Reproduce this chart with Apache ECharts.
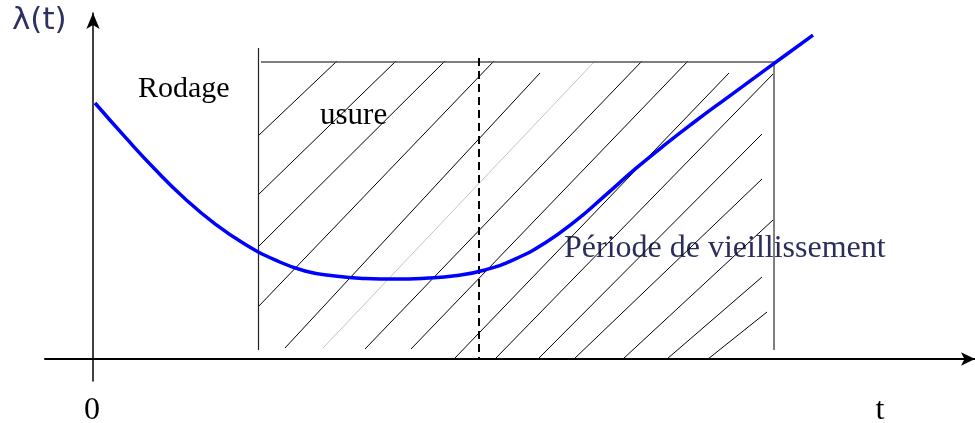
<!DOCTYPE html>
<html>
<head>
<meta charset="utf-8">
<script src="https://cdn.jsdelivr.net/npm/echarts@6/dist/echarts.min.js"></script>
<style>
  html, body { margin: 0; padding: 0; background: #fff; }
  #chart { width: 975px; height: 423px; }
</style>
</head>
<body>
<div id="chart"></div>
<script>
// courbe en baignoire : lambda(t) en fonction de t (unités arbitraires, origine = croisement des axes)

const curveT = [2, 32, 62, 92, 122, 152, 182, 212, 242, 272, 302, 332, 362,
    392, 422, 452, 482, 512, 542, 572, 602, 632, 662, 692, 720];
const curveLambda = [256, 222.1, 189.7, 160.3, 135.1, 114.7, 99.1, 88, 82.9, 80.5, 79.9, 80.8, 83.2,
    89, 99.8, 116, 137.6, 163.4, 189.8, 214.4, 237.5, 259.7, 281.6, 303.5, 323.9];

// cadre de la zone hachurée
const frameLeft = [[165, 311], [165, 9]];
const frameTop = [[168, 297], [682, 297]];
const frameRight = [[681, 297], [681, 9]];
const dashedLine = [[386, 301], [386, 0]];

// hachures (début, fin)
const hatchLines = [
    [[165, 223], [244, 298]],
    [[165, 164], [303, 298]],
    [[165, 112], [352, 298]],
    [[165, 52], [401, 298]],
    [[192, 11], [447, 286]],
    [[272, 10], [549, 298]],
    [[318, 10], [595, 298]],
    [[361, 0], [636, 286]],
    [[402, 0], [681, 286]],
    [[445, 0], [669, 225]],
    [[481, 0], [669, 180]],
    [[530, 0], [680, 139]],
    [[574, 0], [669, 82]],
    [[615, 0], [674, 47]]
];
const lightHatch = [[230, 11], [502, 298]];

const chartDom = document.getElementById('chart');
const myChart = echarts.init(chartDom);

const serif = '"Liberation Serif", "Times New Roman", serif';

const option = {
    animation: false,
    grid: { left: 45, right: 0, top: 13, bottom: 42 },
    xAxis: {
        type: 'value',
        min: -48,
        max: 882,
        axisLine: {
            show: true,
            onZero: true,
            symbol: ['none', 'arrow'],
            symbolSize: [10, 14],
            lineStyle: { color: '#000', width: 2 }
        },
        axisTick: { show: false },
        axisLabel: { show: false },
        splitLine: { show: false }
    },
    yAxis: {
        type: 'value',
        min: -22,
        max: 346,
        axisLine: {
            show: true,
            onZero: true,
            symbol: ['none', 'arrow'],
            symbolSize: [10, 16],
            lineStyle: { color: '#000', width: 1.5 }
        },
        axisTick: { show: false },
        axisLabel: { show: false },
        splitLine: { show: false }
    },
    series: [
        {
            type: 'lines',
            coordinateSystem: 'cartesian2d',
            silent: true,
            z: 1,
            lineStyle: { color: '#000', width: 1, opacity: 1 },
            data: hatchLines.map((c) => ({ coords: c }))
                .concat([{ coords: lightHatch, lineStyle: { color: '#c4c4c4', width: 1 } }])
        },
        {
            type: 'lines',
            coordinateSystem: 'cartesian2d',
            silent: true,
            z: 2,
            data: [
                { coords: frameLeft, lineStyle: { color: '#222', width: 1.2, opacity: 1 } },
                { coords: frameTop, lineStyle: { color: '#555', width: 1.5, opacity: 1 } },
                { coords: frameRight, lineStyle: { color: '#808080', width: 2, opacity: 1 } },
                { coords: dashedLine, lineStyle: { color: '#000', width: 2, type: [8, 5], opacity: 1 } }
            ]
        },
        {
            type: 'line',
            data: curveT.map((t, i) => [t, curveLambda[i]]),
            smooth: 0.5,
            symbol: 'none',
            z: 5,
            lineStyle: { color: '#0000ff', width: 3.5 }
        }
    ],
    graphic: [
        { type: 'text', left: 12, top: 5, style: { text: 'λ(t)', font: '31px "DejaVu Sans", sans-serif', fill: '#2e3060' } },
        { type: 'text', x: 138, y: 89, style: { text: 'Rodage', font: '30px ' + serif, fill: '#000', verticalAlign: 'middle' } },
        { type: 'text', x: 320, y: 116, style: { text: 'usure', font: '31px ' + serif, fill: '#000', verticalAlign: 'middle' } },
        { type: 'text', x: 564, y: 249, style: { text: 'Période de vieillissement', font: '32px ' + serif, fill: '#2b2d5a', verticalAlign: 'middle' } },
        { type: 'text', x: 92, y: 411, style: { text: '0', font: '32px ' + serif, fill: '#000', align: 'center', verticalAlign: 'middle' } },
        { type: 'text', x: 880, y: 411, style: { text: 't', font: '32px ' + serif, fill: '#000', align: 'center', verticalAlign: 'middle' } }
    ]
};

myChart.setOption(option);
</script>
</body>
</html>
